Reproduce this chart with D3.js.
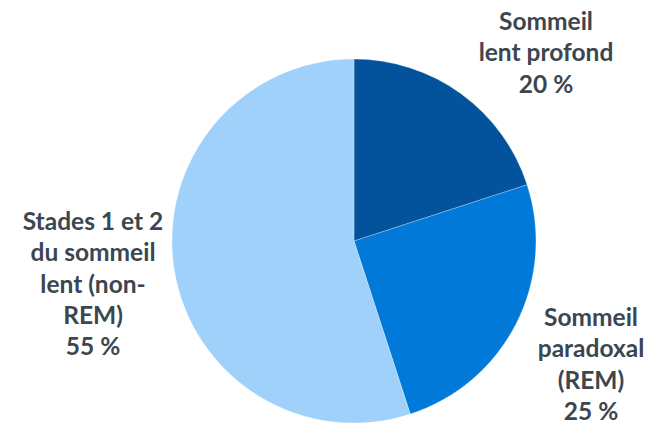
<!DOCTYPE html>
<html>
<head>
<meta charset="utf-8">
<script src="https://cdn.jsdelivr.net/npm/d3@7"></script>
<style>
  body { margin: 0; background: #fff; }
  text { font-family: Lato, "Open Sans", sans-serif; font-weight: bold; fill: #3b4650; }
</style>
</head>
<body>
<div id="chart"></div>
<script>
// données
var categories = ["Sommeil lent profond", "Sommeil paradoxal (REM)", "Stades 1 et 2 du sommeil lent (non-REM)"];
var values = [20, 25, 55];
var labelLines = [
  ["Sommeil", "lent profond", "20 %"],
  ["Sommeil", "paradoxal", "(REM)", "25 %"],
  ["Stades 1 et 2", "du sommeil", "lent (non-", "REM)", "55 %"]
];
var colors = ["#02539b", "#0079d8", "#9fd1fa"];

var width = 647, height = 424;
var cx = 354, cy = 241, radius = 182;

// position des étiquettes (centre horizontal, ligne de base de la 1re ligne)
var labelAnchor = [[546, 30], [591, 326], [93, 230]];
var lineHeight = 31.3;

var svg = d3.select("#chart")
    .append("svg")
    .attr("width", width)
    .attr("height", height);

var pie = d3.pie().sort(null).value(function(d) { return d; });
var arc = d3.arc().innerRadius(0).outerRadius(radius);

var g = svg.append("g").attr("transform", "translate(" + cx + "," + cy + ")");

g.selectAll("path")
    .data(pie(values))
    .enter()
    .append("path")
    .attr("d", arc)
    .attr("fill", function(d, i) { return colors[i]; })
    .attr("stroke", "rgba(255,255,255,0.35)")
    .attr("stroke-width", 0.75);

// étiquettes
var labels = svg.selectAll("text.lbl")
    .data(categories)
    .enter()
    .append("text")
    .attr("class", "lbl")
    .attr("text-anchor", "middle")
    .style("font-size", "24.5px");

labels.each(function(d, i) {
    var t = d3.select(this);
    labelLines[i].forEach(function(line, j) {
        t.append("tspan")
            .attr("x", labelAnchor[i][0])
            .attr("y", labelAnchor[i][1] + j * lineHeight)
            .text(line);
    });
});
</script>
</body>
</html>
